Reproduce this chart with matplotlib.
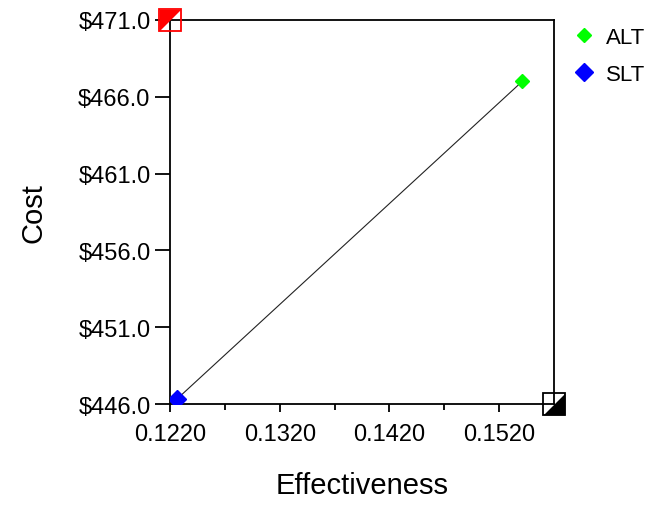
import numpy as np
import matplotlib.pyplot as plt
from matplotlib.path import Path
from matplotlib.ticker import FixedLocator, FormatStrFormatter

plt.rcParams['font.family'] = ['Liberation Sans', 'DejaVu Sans']

# strategies: effectiveness and cost
names = ['ALT', 'SLT']
effectiveness = [0.1541, 0.1226]
cost = [467.0, 446.3]
colors = ['#00ff00', '#0000ff']
sizes = [7, 9]

x_range = [0.1220, 0.1570]
y_range = [446.0, 471.0]
x_step = 0.01
y_step = 5.0

fig = plt.figure(figsize=(6.53, 5.06), dpi=100)
ax = fig.add_axes([0.2603, 0.1996, 0.5881, 0.7589])

# frontier line between the two strategies
order = np.argsort(effectiveness)
ax.plot(np.array(effectiveness)[order], np.array(cost)[order],
        color='#222222', lw=0.8, zorder=2)

for n, e, c, col, s in zip(names, effectiveness, cost, colors, sizes):
    ax.plot(e, c, marker='D', ms=s, color=col, mec=col, ls='none',
            label=n, zorder=3)

# corner markers (half-filled squares)
upper_left = Path([(-1, 1), (1, 1), (-1, -1), (-1, 1)],
                  [Path.MOVETO, Path.LINETO, Path.LINETO, Path.CLOSEPOLY])
lower_right = Path([(1, -1), (1, 1), (-1, -1), (1, -1)],
                   [Path.MOVETO, Path.LINETO, Path.LINETO, Path.CLOSEPOLY])

ax.plot(x_range[0], y_range[1], marker=upper_left, ms=15.5, color='red',
        mew=0, ls='none', clip_on=False, zorder=4)
ax.plot(x_range[0], y_range[1], marker='s', ms=15.5, mfc='none', mec='red',
        mew=1.3, ls='none', clip_on=False, zorder=5)
ax.plot(x_range[1], y_range[0], marker=lower_right, ms=15.5, color='black',
        mew=0, ls='none', clip_on=False, zorder=4)
ax.plot(x_range[1], y_range[0], marker='s', ms=15.5, mfc='none', mec='black',
        mew=1.3, ls='none', clip_on=False, zorder=5)

ax.set_xlim(x_range)
ax.set_ylim(y_range)

# ticks counted from the lower limits
x_major = np.arange(x_range[0], x_range[1] + 1e-9, x_step)
x_minor = x_major + x_step / 2
x_minor = x_minor[x_minor < x_range[1]]
y_major = np.arange(y_range[0], y_range[1] + 1e-9, y_step)

ax.xaxis.set_major_locator(FixedLocator(x_major))
ax.xaxis.set_minor_locator(FixedLocator(x_minor))
ax.xaxis.set_major_formatter(FormatStrFormatter('%.4f'))
ax.yaxis.set_major_locator(FixedLocator(y_major))
ax.yaxis.set_major_formatter(FormatStrFormatter('$%.1f'))

ax.tick_params(axis='x', which='major', length=6, width=1.3, labelsize=17, pad=8)
ax.tick_params(axis='x', which='minor', length=4, width=1.3)
ax.tick_params(axis='y', which='major', length=11, width=1.3, labelsize=17, pad=3)
for sp in ax.spines.values():
    sp.set_linewidth(1.3)

ax.set_xlabel('Effectiveness', fontsize=21)
ax.set_ylabel('Cost', fontsize=21)
ax.xaxis.set_label_coords(0.5, -0.175)
ax.yaxis.set_label_coords(-0.32, 0.5)

ax.legend(loc='upper left', bbox_to_anchor=(1.032, 1.006), frameon=False,
          fontsize=16, handlelength=0.8, handletextpad=0.6, labelspacing=0.75,
          borderaxespad=0)

fig.savefig('out.png', dpi=100)
